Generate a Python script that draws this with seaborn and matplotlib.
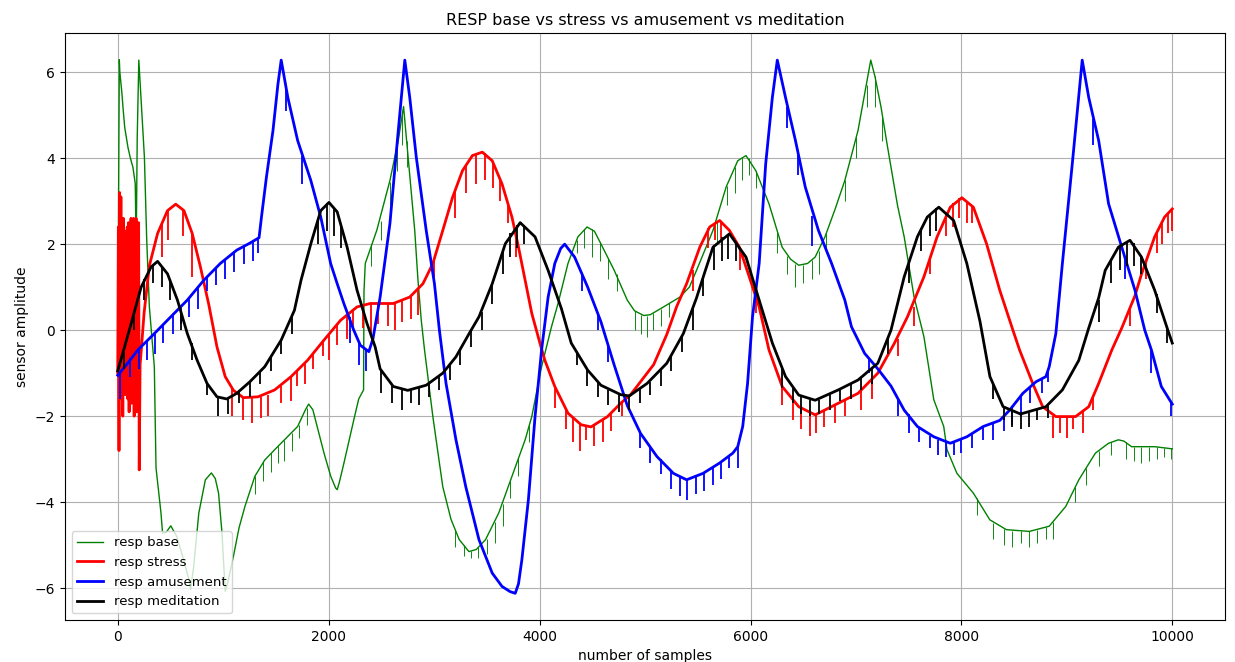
import matplotlib
matplotlib.use("Agg")
import matplotlib.pyplot as plt
import seaborn as sns

# ---- respiration traces: (sample index, amplitude) ----
base_pts = [
    (0, -0.9), (15, 6.29), (20, 6.0), (40, 5.5), (50, 5.18), (66, 4.72), (97, 4.25),
    (120, 4.0), (144, 3.79), (166, 3.41), (175, 1.95), (185, 4.5), (200, 6.28),
    (222, 5.34), (253, 4.02), (275, 2.09), (300, 0.54), (347, -0.85), (363, -3.2),
    (410, -4.25), (425, -4.72), (460, -4.7), (503, -4.55), (560, -4.8), (620, -5.3),
    (675, -5.8), (691, -6.03), (720, -5.5), (769, -4.25), (831, -3.48), (888, -3.32),
    (925, -3.45), (956, -3.79), (988, -4.7), (1019, -6.07), (1040, -5.9), (1097, -5.26),
    (1150, -4.6), (1206, -4.1), (1300, -3.4), (1394, -3.02), (1500, -2.75), (1581, -2.55),
    (1706, -2.24), (1780, -1.85), (1810, -1.72), (1850, -1.85), (1956, -2.86),
    (2020, -3.4), (2066, -3.67), (2081, -3.71), (2100, -3.55), (2144, -3.1),
    (2238, -2.09), (2285, -1.6), (2331, -1.39), (2335, 0.9), (2347, 1.55), (2456, 2.32),
    (2581, 3.48), (2660, 4.41), (2710, 5.2), (2753, 4.02), (2816, 2.32), (2847, 1.16),
    (2878, 0.23), (2909, -0.46), (2988, -2.01), (3082, -3.64), (3160, -4.4),
    (3238, -4.87), (3330, -5.15), (3400, -5.1), (3488, -4.87), (3613, -4.25),
    (3738, -3.4), (3863, -2.55), (3926, -2.01), (4019, -0.85), (4113, 0.08),
    (4175, 0.62), (4269, 1.55), (4363, 2.17), (4450, 2.4), (4520, 2.3), (4581, 2.01),
    (4706, 1.4), (4831, 0.7), (4900, 0.45), (4988, 0.34), (5050, 0.36), (5175, 0.54),
    (5331, 0.77), (5420, 1.0), (5488, 1.39), (5644, 2.32), (5769, 3.33), (5879, 3.94),
    (5957, 4.06), (6050, 3.71), (6175, 2.94), (6300, 1.93), (6380, 1.65), (6457, 1.51),
    (6540, 1.55), (6613, 1.7), (6706, 2.17), (6800, 2.8), (6894, 3.48), (7019, 4.64),
    (7090, 5.6), (7140, 6.28), (7180, 5.9), (7238, 5.18), (7300, 4.25), (7394, 2.9),
    (7457, 2.17), (7551, 0.77), (7644, -0.15), (7738, -1.62), (7832, -2.24),
    (7863, -2.78), (7957, -3.33), (8113, -3.79), (8269, -4.41), (8426, -4.64),
    (8644, -4.68), (8832, -4.56), (8989, -4.1), (9113, -3.48), (9270, -2.86),
    (9395, -2.63), (9488, -2.55), (9540, -2.58), (9613, -2.71), (9832, -2.71),
    (9999, -2.76),
]

stress_pts = [
    (0, -1.0), (6, 2.4), (12, -2.8), (18, 3.2), (24, -1.2), (30, 3.1), (36, -1.6),
    (42, 1.0), (48, -2.0), (54, 2.6), (60, -1.3), (66, 2.2), (72, -1.5), (78, 2.3),
    (84, -0.8), (90, 2.4), (96, -1.6), (102, 2.5), (108, -1.9), (114, 2.4), (120, -1.0),
    (126, 2.6), (132, -1.7), (138, 2.5), (144, -1.4), (150, 2.6), (156, -2.0),
    (162, 2.5), (168, -1.2), (174, 2.6), (180, -1.9), (186, 2.4), (192, -1.0),
    (198, 2.5), (204, -3.25), (212, -0.8), (222, -0.5), (250, 0.4), (300, 1.5),
    (378, 2.25), (472, 2.78), (550, 2.93), (628, 2.78), (706, 2.25), (784, 1.47),
    (863, 0.6), (941, -0.39), (1019, -1.08), (1097, -1.4), (1191, -1.57), (1331, -1.55),
    (1488, -1.39), (1644, -1.08), (1800, -0.7), (1956, -0.23), (2113, 0.23),
    (2269, 0.54), (2394, 0.62), (2613, 0.62), (2769, 0.77), (2894, 1.08), (2988, 1.55),
    (3082, 2.32), (3175, 3.09), (3269, 3.71), (3363, 4.06), (3457, 4.14), (3551, 3.94),
    (3644, 3.4), (3738, 2.63), (3800, 1.93), (3863, 1.16), (3926, 0.39), (4003, -0.3),
    (4050, -0.7), (4144, -1.31), (4269, -1.93), (4394, -2.2), (4488, -2.25),
    (4644, -2.01), (4769, -1.7), (4863, -1.5), (4957, -1.2), (5082, -0.8), (5206, -0.1),
    (5300, 0.55), (5394, 1.08), (5519, 1.93), (5613, 2.4), (5707, 2.55), (5800, 2.32),
    (5894, 1.93), (5988, 1.24), (6082, 0.54), (6175, -0.46), (6300, -1.31),
    (6457, -1.78), (6613, -1.97), (6832, -1.7), (7019, -1.47), (7207, -1.0),
    (7363, -0.31), (7488, 0.31), (7644, 1.24), (7769, 2.17), (7894, 2.86), (8004, 3.08),
    (8113, 2.86), (8238, 2.01), (8363, 0.93), (8488, 0.0), (8551, -0.46), (8676, -1.24),
    (8770, -1.78), (8895, -2.01), (9082, -2.01), (9207, -1.78), (9301, -1.24),
    (9426, -0.46), (9520, 0.05), (9645, 0.8), (9707, 1.3), (9832, 2.17), (9926, 2.63),
    (9999, 2.82),
]

amusement_pts = [
    (0, -1.05), (100, -0.75), (191, -0.46), (347, -0.08), (503, 0.31), (660, 0.7),
    (816, 1.16), (972, 1.55), (1128, 1.86), (1250, 2.02), (1340, 2.15), (1363, 2.63),
    (1410, 3.56), (1472, 4.64), (1519, 5.72), (1550, 6.28), (1613, 5.41), (1706, 4.41),
    (1831, 3.48), (1925, 2.63), (2019, 1.55), (2081, 1.08), (2144, 0.62), (2238, 0.0),
    (2300, -0.35), (2381, -0.5), (2420, -0.2), (2488, 0.77), (2581, 2.48), (2660, 4.64),
    (2722, 6.28), (2769, 5.41), (2831, 4.02), (2925, 2.32), (3003, 1.08), (3050, 0.0),
    (3113, -1.24), (3207, -2.55), (3300, -3.64), (3425, -4.87), (3551, -5.65),
    (3644, -5.96), (3720, -6.08), (3769, -6.12), (3800, -5.9), (3832, -5.34),
    (3894, -3.94), (3957, -2.01), (4019, -0.46), (4081, 0.77), (4144, 1.55), (4200, 1.9),
    (4238, 2.0), (4332, 1.7), (4456, 1.0), (4581, 0.2), (4706, -0.8), (4831, -1.75),
    (4957, -2.4), (5113, -2.94), (5269, -3.33), (5394, -3.48), (5550, -3.33),
    (5707, -3.09), (5832, -2.86), (5879, -2.71), (5926, -2.24), (5972, -1.24),
    (6019, 0.31), (6082, 1.55), (6144, 3.87), (6207, 5.41), (6254, 6.28), (6332, 5.41),
    (6426, 4.41), (6519, 3.33), (6644, 2.32), (6769, 1.55), (6894, 0.7), (6957, 0.08),
    (7082, -0.54), (7207, -0.9), (7332, -1.3), (7457, -1.86), (7582, -2.24),
    (7738, -2.48), (7894, -2.63), (8051, -2.48), (8207, -2.24), (8363, -2.1),
    (8457, -1.86), (8582, -1.47), (8707, -1.2), (8801, -1.08), (8832, -0.85),
    (8895, -0.08), (8957, 1.55), (9051, 3.87), (9145, 6.28), (9207, 5.41), (9301, 4.41),
    (9395, 2.94), (9520, 1.93), (9645, 0.93), (9738, 0.0), (9801, -0.46), (9895, -1.31),
    (9999, -1.72),
]

meditation_pts = [
    (0, -0.95), (128, 0.16), (222, 1.0), (316, 1.47), (378, 1.6), (472, 1.31),
    (566, 0.7), (660, -0.08), (753, -0.7), (847, -1.24), (941, -1.55), (1034, -1.6),
    (1128, -1.47), (1253, -1.2), (1394, -0.85), (1550, -0.23), (1675, 0.46),
    (1738, 1.16), (1831, 2.01), (1925, 2.78), (2003, 2.97), (2081, 2.75), (2175, 1.93),
    (2269, 0.93), (2363, 0.16), (2441, -0.39), (2488, -0.9), (2613, -1.31),
    (2750, -1.4), (2925, -1.28), (3082, -1.0), (3207, -0.62), (3332, -0.08),
    (3425, 0.31), (3551, 1.08), (3675, 2.01), (3816, 2.5), (3957, 2.17), (4081, 1.39),
    (4207, 0.5), (4300, -0.3), (4456, -0.93), (4581, -1.28), (4769, -1.5),
    (4850, -1.53), (5019, -1.24), (5206, -0.77), (5363, -0.08), (5488, 0.75),
    (5560, 1.3), (5644, 1.93), (5800, 2.24), (5957, 1.7), (6082, 0.7), (6207, -0.3),
    (6332, -1.08), (6457, -1.51), (6613, -1.63), (6832, -1.39), (7019, -1.16),
    (7207, -0.77), (7332, 0.0), (7457, 1.24), (7582, 2.17), (7676, 2.63), (7785, 2.86),
    (7926, 2.55), (8051, 1.55), (8176, 0.2), (8270, -1.08), (8395, -1.78),
    (8560, -1.95), (8801, -1.78), (8957, -1.39), (9113, -0.7), (9207, 0.05),
    (9301, 0.75), (9363, 1.39), (9488, 1.93), (9598, 2.09), (9707, 1.7), (9832, 0.93),
    (9957, 0.0), (9999, -0.3),
]

# ---- short downward artefacts: (sample index, trace level, dip level) ----
base_dips = [
    (1300, -3.4, -3.8), (1380, -3.05, -3.5), (1450, -2.85, -3.3), (1520, -2.7, -3.1),
    (1580, -2.55, -3.05), (1650, -2.4, -2.8), (1720, -2.2, -2.5), (1790, -1.8, -2.2),
    (2400, 2.0, 1.5), (2500, 2.55, 2.1), (2580, 3.45, 2.9), (2650, 4.3, 3.7),
    (2700, 5.1, 4.3), (2740, 4.4, 3.8), (3200, -4.65, -5.05), (3280, -5.0, -5.25),
    (3350, -5.14, -5.3), (3420, -5.05, -5.3), (3500, -4.85, -5.2), (3580, -4.45, -4.95),
    (3650, -4.05, -4.55), (3720, -3.5, -3.9), (3800, -2.95, -3.4), (3900, -2.2, -2.6),
    (4350, 2.1, 1.8), (4420, 2.35, 1.9), (4500, 2.35, 1.7), (4570, 2.05, 1.6),
    (4650, 1.65, 1.2), (4730, 1.3, 0.9), (4900, 0.45, 0.0), (4960, 0.35, -0.1),
    (5020, 0.34, -0.15), (5080, 0.4, 0.0), (5150, 0.5, 0.1), (5230, 0.62, 0.3),
    (5680, 2.55, 2.0), (5780, 3.35, 2.9), (5850, 3.8, 3.2), (5920, 4.0, 3.5),
    (5990, 4.0, 3.6), (6050, 3.71, 3.3), (6250, 2.3, 1.8), (6350, 1.72, 1.3),
    (6420, 1.55, 1.0), (6500, 1.52, 1.1), (6580, 1.62, 1.2), (6650, 1.85, 1.3),
    (6720, 2.25, 1.8), (6900, 3.5, 3.0), (7000, 4.5, 4.0), (7100, 5.7, 5.2),
    (7180, 5.9, 5.2), (7250, 5.0, 4.4), (8150, -3.9, -4.3), (8300, -4.48, -4.85),
    (8400, -4.62, -5.0), (8480, -4.66, -5.05), (8560, -4.68, -4.95), (8640, -4.68, -5.05),
    (8720, -4.64, -4.95), (8800, -4.58, -4.85), (8870, -4.45, -4.85), (9080, -3.65, -4.0),
    (9180, -3.2, -3.6), (9300, -2.8, -3.15), (9420, -2.6, -2.9), (9560, -2.6, -3.0),
    (9640, -2.72, -3.05), (9700, -2.72, -3.1), (9780, -2.71, -3.05), (9850, -2.71, -3.0),
    (9920, -2.73, -2.95), (9990, -2.75, -3.0),
]

stress_dips = [
    (420, 2.5, 1.7), (480, 2.78, 2.1), (620, 2.8, 2.2), (706, 2.25, 1.24),
    (1080, -1.35, -2.0), (1190, -1.57, -2.1), (1270, -1.57, -2.17), (1360, -1.55, -2.05),
    (1425, -1.5, -2.0), (1550, -1.3, -1.7), (1640, -1.08, -1.65), (1700, -0.95, -1.3),
    (1780, -0.75, -1.25), (1850, -0.55, -0.9), (1950, -0.23, -0.6), (2000, -0.1, -0.7),
    (2080, 0.15, -0.35), (2170, 0.35, -0.2), (2230, 0.5, 0.0), (2330, 0.6, 0.05),
    (2400, 0.62, -0.1), (2470, 0.62, 0.15), (2560, 0.62, 0.1), (2630, 0.63, 0.0),
    (2700, 0.7, 0.2), (2780, 0.78, 0.25), (2850, 0.95, 0.35), (3000, 1.6, 1.1),
    (3200, 3.25, 2.6), (3300, 3.85, 3.2), (3400, 4.1, 3.4), (3480, 4.12, 3.5),
    (3560, 3.9, 3.3), (3620, 3.55, 3.0), (3700, 2.95, 2.5), (3780, 2.2, 1.7),
    (4150, -1.35, -1.8), (4250, -1.85, -2.3), (4320, -2.05, -2.6), (4380, -2.18, -2.8),
    (4440, -2.22, -2.55), (4520, -2.22, -2.7), (4600, -2.1, -2.6), (4680, -1.95, -2.35),
    (4780, -1.7, -2.0), (5450, 1.4, 0.9), (5600, 2.38, 1.9), (5660, 2.5, 2.1),
    (5720, 2.52, 2.1), (5900, 1.9, 1.4), (6050, 0.75, 0.4), (6300, -1.31, -1.75),
    (6400, -1.65, -2.1), (6480, -1.8, -2.3), (6560, -1.9, -2.45), (6620, -1.97, -2.4),
    (6700, -1.88, -2.25), (6800, -1.75, -2.15), (6900, -1.6, -2.0), (7050, -1.4, -1.85),
    (7150, -1.15, -1.6), (7400, -0.2, -0.6), (7550, 0.55, 0.1), (7700, 1.7, 1.3),
    (7850, 2.65, 2.2), (7920, 2.95, 2.4), (7980, 3.07, 2.6), (8050, 3.0, 2.5),
    (8100, 2.9, 2.5), (8870, -2.0, -2.5), (8930, -2.01, -2.4), (9000, -2.01, -2.5),
    (9060, -2.01, -2.3), (9150, -1.9, -2.4), (9250, -1.5, -1.85), (9600, 0.55, 0.1),
    (9750, 1.6, 1.2), (9850, 2.25, 1.8), (9900, 2.5, 2.0), (9960, 2.72, 2.25),
    (9995, 2.8, 2.3),
]

amusement_dips = [
    (20, -1.0, -1.6), (120, -0.65, -1.1), (200, -0.45, -0.9), (280, -0.25, -0.7),
    (350, -0.08, -0.55), (430, 0.12, -0.3), (520, 0.35, -0.1), (600, 0.55, 0.15),
    (680, 0.75, 0.3), (760, 1.0, 0.5), (850, 1.25, 0.9), (930, 1.45, 1.05),
    (1020, 1.65, 1.2), (1100, 1.8, 1.35), (1200, 1.95, 1.55), (1280, 2.05, 1.6),
    (1330, 2.12, 1.8), (1600, 5.6, 5.1), (1750, 4.05, 3.4), (2200, 0.3, -0.3),
    (2290, -0.3, -0.8), (2350, -0.45, -0.95), (4400, 1.3, 0.9), (4550, 0.4, 0.0),
    (4650, -0.35, -0.75), (4950, -2.35, -2.75), (5050, -2.7, -3.1), (5150, -3.0, -3.35),
    (5250, -3.28, -3.7), (5330, -3.42, -3.85), (5400, -3.48, -3.95), (5480, -3.42, -3.8),
    (5560, -3.32, -3.75), (5640, -3.2, -3.6), (5720, -3.07, -3.45), (5800, -2.9, -3.2),
    (5880, -2.7, -3.2), (6350, 5.2, 4.7), (6450, 4.2, 3.6), (6580, 2.65, 1.95),
    (7120, -0.65, -1.0), (7400, -1.6, -2.0), (7500, -1.95, -2.4), (7600, -2.25, -2.6),
    (7700, -2.45, -2.75), (7780, -2.55, -2.9), (7850, -2.6, -2.95), (7930, -2.6, -2.9),
    (8000, -2.55, -2.85), (8100, -2.4, -2.75), (8200, -2.25, -2.55), (8300, -2.15, -2.55),
    (8400, -2.0, -2.35), (8480, -1.8, -2.2), (8560, -1.55, -2.0), (8650, -1.33, -1.7),
    (8760, -1.12, -1.45), (8820, -0.95, -1.2), (9250, 4.9, 4.3), (9550, 1.7, 1.2),
    (9800, -0.46, -1.0), (9990, -1.7, -2.0),
]

meditation_dips = [
    (60, -0.5, -0.9), (150, 0.4, 0.0), (250, 1.2, 0.7), (330, 1.52, 1.1),
    (420, 1.5, 1.0), (500, 1.15, 0.7), (600, 0.45, 0.0), (700, -0.3, -0.7),
    (850, -1.25, -1.5), (950, -1.56, -2.0), (1050, -1.58, -1.95), (1150, -1.43, -1.7),
    (1250, -1.2, -1.55), (1350, -0.95, -1.25), (1450, -0.6, -0.95), (1550, -0.23, -0.55),
    (1650, 0.3, -0.1), (1900, 2.6, 2.0), (1980, 2.95, 2.3), (2050, 2.85, 2.2),
    (2120, 2.45, 1.9), (2500, -0.95, -1.45), (2600, -1.3, -1.7), (2700, -1.38, -1.85),
    (2780, -1.39, -1.7), (2860, -1.33, -1.75), (2950, -1.25, -1.55), (3050, -1.05, -1.4),
    (3150, -0.8, -1.15), (3250, -0.45, -0.8), (3350, 0.0, -0.4), (3450, 0.42, 0.0),
    (3550, 1.08, 0.6), (3650, 1.85, 1.3), (3720, 2.25, 1.7), (3790, 2.45, 1.9),
    (3850, 2.45, 2.0), (4350, -0.5, -0.8), (4450, -0.9, -1.3), (4550, -1.2, -1.55),
    (4650, -1.4, -1.75), (4750, -1.5, -1.9), (4850, -1.53, -1.85), (4950, -1.35, -1.7),
    (5050, -1.2, -1.5), (5150, -0.92, -1.3), (5250, -0.6, -0.95), (5350, -0.12, -0.5),
    (5450, 0.5, 0.0), (5550, 1.25, 0.8), (5650, 1.95, 1.4), (5730, 2.17, 1.6),
    (5790, 2.24, 1.65), (5860, 2.05, 1.6), (6300, -0.9, -1.35), (6400, -1.35, -1.7),
    (6480, -1.53, -1.95), (6560, -1.6, -2.0), (6650, -1.62, -1.95), (6750, -1.5, -1.85),
    (6850, -1.38, -1.65), (6950, -1.25, -1.6), (7050, -1.12, -1.4), (7150, -0.9, -1.25),
    (7300, -0.2, -0.55), (7500, 1.55, 1.1), (7620, 2.35, 1.85), (7700, 2.7, 2.2),
    (7760, 2.84, 2.3), (8300, -1.25, -1.6), (8400, -1.78, -2.1), (8480, -1.88, -2.25),
    (8560, -1.95, -2.3), (8640, -1.92, -2.25), (8720, -1.86, -2.1), (8820, -1.75, -2.05),
    (9300, 0.7, 0.2), (9420, 1.65, 1.1), (9500, 1.95, 1.4), (9570, 2.07, 1.5),
    (9640, 2.02, 1.5), (9700, 1.72, 1.3), (9850, 0.85, 0.4), (9950, 0.05, -0.3),
]

labels = ["resp base", "resp stress", "resp amusement", "resp meditation"]
colors = ["green", "red", "blue", "black"]
widths = [1.0, 2.0, 2.0, 2.0]

plt.rcParams["font.size"] = 10

fig = plt.figure(figsize=(12.35, 6.62), dpi=100)
ax = fig.add_axes([65 / 1235, 42 / 662, 1160 / 1235, 587 / 662])

traces = [base_pts, stress_pts, amusement_pts, meditation_pts]
dips = [base_dips, stress_dips, amusement_dips, meditation_dips]

for pts, dip, label, color, lw in zip(traces, dips, labels, colors, widths):
    xs, ys = zip(*pts)
    sns.lineplot(x=list(xs), y=list(ys), color=color, linewidth=lw, label=label,
                 estimator=None, sort=False, ax=ax)
    dx, dtop, dlow = zip(*dip)
    ax.vlines(dx, dlow, dtop, colors=color, linewidth=lw * 0.65)

ax.grid(True)
ax.set_title("RESP base vs stress vs amusement vs meditation", fontsize=11.5)
ax.set_xlabel("number of samples")
ax.set_ylabel("sensor amplitude")
ax.legend(loc="lower left", fontsize=9.5)

fig.savefig("out.png", dpi=100)
